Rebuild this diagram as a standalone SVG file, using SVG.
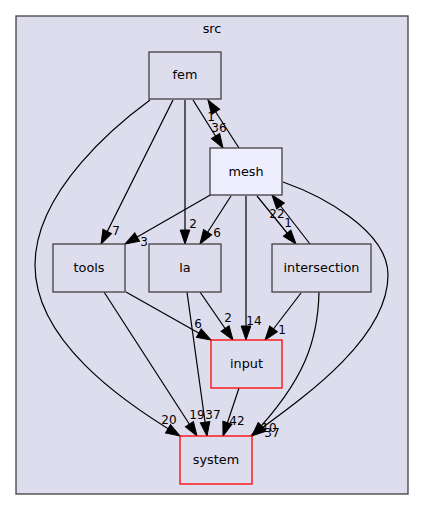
<svg xmlns="http://www.w3.org/2000/svg" width="424" height="511" viewBox="0 0 424 511">
<defs>
<marker id="ah" markerUnits="userSpaceOnUse" markerWidth="15" markerHeight="11" refX="14" refY="5.5" orient="auto" viewBox="0 0 15 11" overflow="visible">
<path d="M0,0.7 L14,5.5 L0,10.3 z" fill="#000000" stroke="#000000" stroke-width="1"/>
</marker>
<style>
text{font-family:"DejaVu Sans","Liberation Sans",sans-serif;font-size:12.8px;fill:#000;text-anchor:middle}
.edges text{font-size:12px}
.node rect{fill:#ddddee;stroke:#404040;stroke-width:1.3}
.node.cur rect{fill:#eeeeff}
.node.trunc rect{stroke:#ff0000}
.edges path{fill:none;stroke:#000;stroke-width:1.2;marker-end:url(#ah)}
</style>
</defs>
<rect width="424" height="511" fill="#ffffff"/>
<g id="cluster_src">
<rect x="16" y="16" width="392" height="478" fill="#ddddee" stroke="#404040" stroke-width="1.3"/>
<text x="212" y="32.5">src</text>
</g>
<g class="edges" id="edges">
<path d="M173,100 L101,244"/>
<path d="M185,100 L185,244"/>
<path d="M193,100 L223,148"/>
<path d="M239,148 L208,100"/>
<path d="M150,100 C120,122 35,190 35,265 C35,340 120,400 180,436"/>
<path d="M212,194 L125,244"/>
<path d="M231,196 L200,244"/>
<path d="M246,196 L246,340"/>
<path d="M257,196 L296,244"/>
<path d="M310,244 L272,195"/>
<path d="M283,182 C320,195 388,230 388,275 C388,340 300,400 251,436"/>
<path d="M126,292 L211,340"/>
<path d="M200,292 L233,340"/>
<path d="M301,293 L265,340"/>
<path d="M104,292 L197,436"/>
<path d="M187,292 L207,436"/>
<path d="M239,388 L223,436"/>
<path d="M319,292 C318,340 305,380 252,436"/>
<text x="116" y="235">7</text>
<text x="193" y="228">2</text>
<text x="219" y="132">36</text>
<text x="211" y="121">1</text>
<text x="169" y="424">20</text>
<text x="144" y="246">3</text>
<text x="217" y="237">6</text>
<text x="254" y="325">14</text>
<text x="277" y="218">22</text>
<text x="288" y="227">1</text>
<text x="198" y="328">6</text>
<text x="228" y="322">2</text>
<text x="282" y="334">1</text>
<text x="197" y="419">19</text>
<text x="213" y="419">37</text>
<text x="237" y="425">42</text>
<text x="269" y="432">10</text>
<text x="272" y="437">37</text>
</g>
<g class="node" id="node_fem">
<rect x="149" y="52" width="72" height="47"/>
<text x="185" y="78.5">fem</text>
</g>
<g class="node cur" id="node_mesh">
<rect x="210" y="148" width="72" height="47"/>
<text x="246" y="175.5">mesh</text>
</g>
<g class="node" id="node_tools">
<rect x="53" y="244" width="72" height="48"/>
<text x="89" y="271.5">tools</text>
</g>
<g class="node" id="node_la">
<rect x="149" y="244" width="72" height="48"/>
<text x="185" y="271.5">la</text>
</g>
<g class="node" id="node_intersection">
<rect x="272" y="244" width="99" height="48"/>
<text x="321.5" y="271.5">intersection</text>
</g>
<g class="node trunc" id="node_input">
<rect x="211" y="340" width="71" height="48"/>
<text x="246.5" y="367.5">input</text>
</g>
<g class="node trunc" id="node_system">
<rect x="180" y="436" width="72" height="48"/>
<text x="216" y="463.5">system</text>
</g>
</svg>
